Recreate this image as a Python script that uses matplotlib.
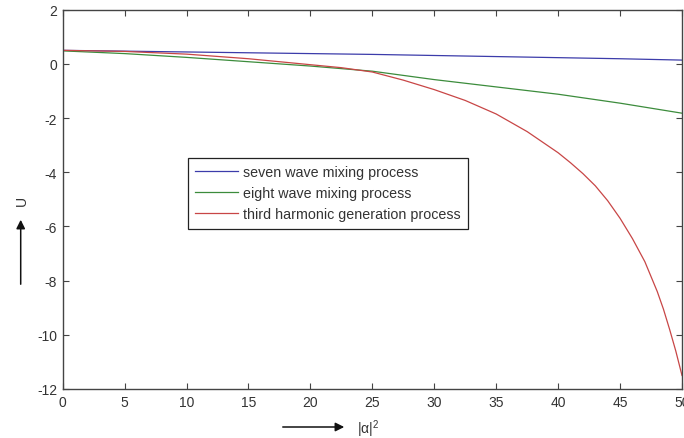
import numpy as np
import matplotlib
matplotlib.use('Agg')
import matplotlib.pyplot as plt

plt.rcParams['font.family'] = ['Liberation Sans', 'DejaVu Sans']
plt.rcParams['axes.unicode_minus'] = False
plt.rcParams['mathtext.fontset'] = 'custom'
plt.rcParams['mathtext.rm'] = 'Liberation Sans'

# values
x_seven = [0, 5, 10, 15, 20, 25, 30, 35, 40, 45, 50]
u_seven = [0.50, 0.47, 0.44, 0.41, 0.38, 0.35, 0.31, 0.27, 0.23, 0.19, 0.14]

x_eight = [0, 5, 10, 15, 20, 25, 30, 35, 40, 45, 50]
u_eight = [0.48, 0.38, 0.24, 0.08, -0.08, -0.27, -0.58, -0.85, -1.12, -1.45, -1.82]

x_third = [0, 5, 10, 15, 20, 22.5, 25, 27.5, 30, 32.5, 35, 37.5, 40, 41, 42,
           43, 44, 45, 46, 47, 48, 48.5, 49, 49.5, 50]
u_third = [0.50, 0.46, 0.36, 0.19, -0.03, -0.14, -0.30, -0.60, -0.95, -1.35,
           -1.85, -2.50, -3.28, -3.65, -4.05, -4.50, -5.05, -5.70, -6.45,
           -7.30, -8.40, -9.05, -9.80, -10.60, -11.5]

labels = ['seven wave mixing process', 'eight wave mixing process',
          'third harmonic generation process']
xticks = np.arange(0, 51, 5)
yticks = np.arange(-12, 3, 2)

W, H = 684, 439
fig = plt.figure(figsize=(W/100, H/100), dpi=100)
ax = fig.add_axes([62.7/W, 1-390/H, (682-62.7)/W, (390-10.7)/H])

ax.plot(x_seven, u_seven, color='#3c3caa', lw=0.9, label=labels[0])
ax.plot(x_eight, u_eight, color='#3c8c3c', lw=0.9, label=labels[1])
ax.plot(x_third, u_third, color='#c84646', lw=0.9, label=labels[2])

ax.set_xlim(0, 50)
ax.set_ylim(-12, 2)
ax.set_xticks(xticks)
ax.set_yticks(yticks)
ax.tick_params(direction='in', length=4, width=0.8, top=True, right=True,
               labelsize=10, labelcolor='#333333', color='#444444', pad=4)
for sp in ax.spines.values():
    sp.set_color('#444444')
    sp.set_linewidth(1.0)

leg = ax.legend(loc='upper left', bbox_to_anchor=(188/W, 1-159/H),
                bbox_transform=fig.transFigure, borderaxespad=0,
                fancybox=False, edgecolor='#222222', fontsize=10.3,
                handlelength=3.0, handletextpad=0.36, borderpad=0.5,
                labelspacing=0.5, framealpha=1)
leg.get_frame().set_linewidth(0.9)
for t in leg.get_texts():
    t.set_color('#333333')

# axis labels with arrows
fig.text(21.7/W, 1-201/H, 'U', rotation=90, ha='center', va='center',
         fontsize=10, color='#333333')
ax.annotate('', xy=(20.7/W, 1-218/H), xytext=(20.7/W, 1-288/H),
            xycoords='figure fraction', textcoords='figure fraction',
            arrowprops=dict(arrowstyle='-|>', color='#111111', lw=1.1,
                            mutation_scale=13))
ax.annotate('', xy=(347/W, 1-428/H), xytext=(280/W, 1-428/H),
            xycoords='figure fraction', textcoords='figure fraction',
            arrowprops=dict(arrowstyle='-|>', color='#111111', lw=1.1,
                            mutation_scale=13))
fig.text(357/W, 1-429/H, '|α|$^2$', ha='left', va='center', fontsize=10,
         color='#333333')

fig.savefig('out.png', dpi=100)
